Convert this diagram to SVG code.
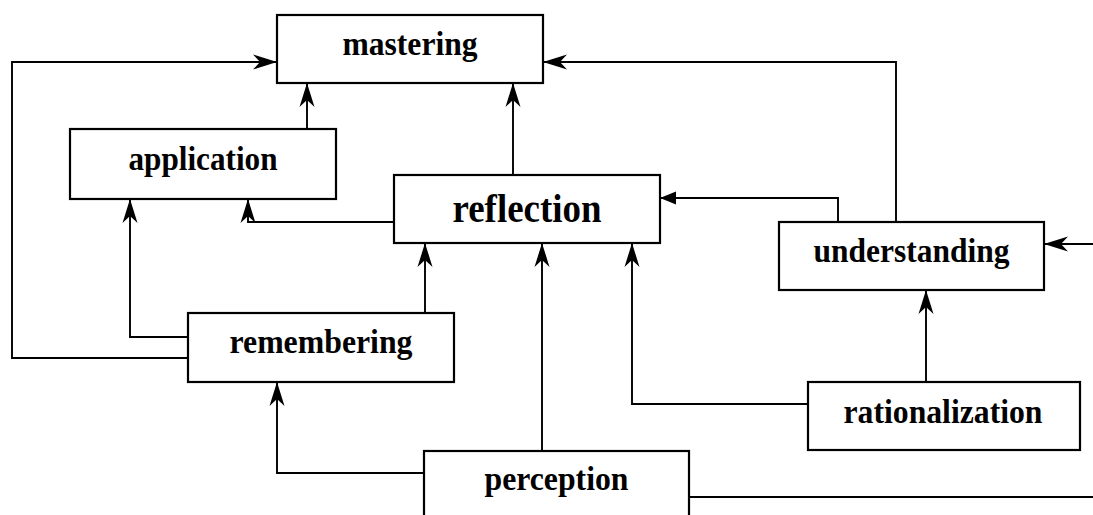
<svg xmlns="http://www.w3.org/2000/svg" width="1093" height="515" viewBox="0 0 1093 515">
  <style>
    .box { fill: #ffffff; stroke: #000000; stroke-width: 2.2; }
    .label { font-family: "Liberation Serif", "Times New Roman", serif; font-weight: bold; font-size: 34px; fill: #000000; text-anchor: middle; }
    .big { font-size: 41px; }
    .wire { fill: none; stroke: #000000; stroke-width: 1.9; }
    .open { marker-end: url(#stealth); }
    .solid { marker-end: url(#tri); }
  </style>
  <defs>
    <!-- narrow notched arrowhead -->
    <marker id="stealth" markerUnits="userSpaceOnUse" markerWidth="28" markerHeight="18" refX="26" refY="9" orient="auto" overflow="visible">
      <path d="M26,9 L2,1.5 L9,9 L2,16.5 Z" fill="#000000"/>
    </marker>
    <!-- short solid triangle -->
    <marker id="tri" markerUnits="userSpaceOnUse" markerWidth="18" markerHeight="14" refX="16" refY="7" orient="auto" overflow="visible">
      <path d="M16,7 L0,0.5 L0,13.5 Z" fill="#000000"/>
    </marker>
  </defs>

  <!-- connectors -->
  <g id="connectors">
    <path class="wire open" d="M307,129 L307,83"/>
    <path class="wire open" d="M513,175 L513,83"/>
    <path class="wire open" d="M394,222 L248,222 L248,199"/>
    <path class="wire open" d="M188,337 L130,337 L130,199"/>
    <path class="wire open" d="M188,358 L12,358 L12,62 L277,62"/>
    <path class="wire open" d="M425,313 L425,243"/>
    <path class="wire open" d="M542,451 L542,243"/>
    <path class="wire open" d="M808,404 L632,404 L632,243"/>
    <path class="wire open" d="M424,473 L277,473 L277,382"/>
    <path class="wire open" d="M926,382 L926,290"/>
    <path class="wire open" d="M896,222 L896,62 L543,62"/>
    <path class="wire solid" d="M838,222 L838,198 L660,198"/>
    <path class="wire open" d="M1093,244 L1044,244"/>
    <path class="wire" d="M689,497 L1093,497"/>
  </g>

  <g id="mastering">
    <rect class="box" x="277" y="15" width="266" height="68"/>
    <text class="label" x="410" y="55" textLength="135" lengthAdjust="spacingAndGlyphs">mastering</text>
  </g>
  <g id="application">
    <rect class="box" x="70" y="129" width="266" height="70"/>
    <text class="label" x="203" y="170" textLength="149" lengthAdjust="spacingAndGlyphs">application</text>
  </g>
  <g id="reflection">
    <rect class="box" x="394" y="175" width="266" height="68"/>
    <text class="label big" x="527" y="222" textLength="149" lengthAdjust="spacingAndGlyphs">reflection</text>
  </g>
  <g id="understanding">
    <rect class="box" x="779" y="222" width="265" height="68"/>
    <text class="label" x="911.5" y="262" textLength="196" lengthAdjust="spacingAndGlyphs">understanding</text>
  </g>
  <g id="remembering">
    <rect class="box" x="188" y="313" width="266" height="69"/>
    <text class="label" x="321" y="353" textLength="183" lengthAdjust="spacingAndGlyphs">remembering</text>
  </g>
  <g id="rationalization">
    <rect class="box" x="808" y="382" width="272" height="68"/>
    <text class="label" x="943" y="423" textLength="199" lengthAdjust="spacingAndGlyphs">rationalization</text>
  </g>
  <g id="perception">
    <rect class="box" x="424" y="451" width="265" height="70"/>
    <text class="label" x="556.5" y="490" textLength="144" lengthAdjust="spacingAndGlyphs">perception</text>
  </g>
</svg>
